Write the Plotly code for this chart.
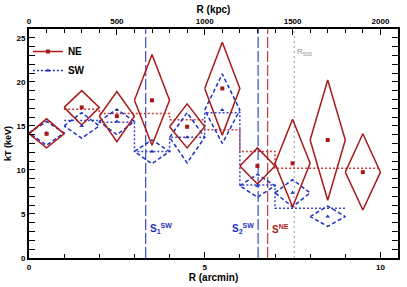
import plotly.graph_objects as go

# ---------------- data ----------------
ne_r = [0.5, 1.5, 2.5, 3.5, 4.5, 5.5, 6.5, 7.5, 8.5, 9.5]          # arcmin
ne_rlo = [0, 1, 2, 3, 4, 5, 6, 7, 8, 9]
ne_rhi = [1, 2, 3, 4, 5, 6, 7, 8, 9, 10]
ne_kt = [14.1, 17.1, 16.1, 17.9, 14.9, 19.25, 10.45, 10.75, 13.4, 9.75]
ne_up = [1.7, 1.9, 2.8, 5.2, 2.6, 5.25, 2.05, 5.0, 6.8, 4.35]
ne_dn = [1.6, 2.0, 2.9, 5.1, 2.4, 5.3, 2.05, 4.95, 6.85, 4.3]

sw_r = [0.5, 1.5, 2.5, 3.5, 4.5, 5.5, 6.5, 7.5, 8.5]
sw_rlo = [0, 1, 2, 3, 4, 5, 6, 7, 8]
sw_rhi = [1, 2, 3, 4, 5, 6, 7, 8, 9]
sw_kt = [14.2, 15.0, 15.5, 12.1, 13.7, 16.8, 8.2, 7.4, 4.7]
sw_up = [1.3, 1.5, 1.4, 1.3, 2.8, 4.1, 1.3, 1.5, 1.2]
sw_dn = [1.4, 1.4, 1.5, 1.4, 2.9, 3.8, 1.3, 1.6, 1.1]

# deprojected / model step profiles
ne_step_edges = [1, 2, 3, 4, 5, 6, 7, 8, 9, 10]
ne_step_kt = [16.9, 16.4, 16.4, 15.7, 14.55, 12.1, 10.2, 10.2, 10.2]
sw_step_edges = [1, 2, 3, 4, 5, 6, 7, 8, 9]
sw_step_kt = [15.6, 15.4, 12.1, 13.7, 16.5, 8.3, 5.65, 5.65]

# marked radii (arcmin)
shock_names = ["S<sub>1</sub><sup>SW</sup>", "S<sub>2</sub><sup>SW</sup>", "S<sup>NE</sup>"]
shock_r = [3.32, 6.52, 6.79]
r500_r = 7.55

kpc_ticks = [0, 500, 1000, 1500, 2000]
arcmin_ticks = [0, 5, 10]
kt_ticks = [0, 5, 10, 15, 20, 25]

RED = "#a81a1a"
BLUE = "#1f2fbf"
FONT = "Liberation Sans"

fig = go.Figure()


def diamond(c, lo, hi, v, u, d):
    return [lo, c, hi, c, lo], [v, v + u, v, v - d, v]


# steps
fig.add_trace(go.Scatter(x=ne_step_edges, y=ne_step_kt + [ne_step_kt[-1]], mode="lines",
                         line=dict(color="#c83a3a", width=1.5, dash="2px,2px", shape="hv"),
                         showlegend=False, hoverinfo="skip"))
fig.add_trace(go.Scatter(x=sw_step_edges, y=sw_step_kt + [sw_step_kt[-1]], mode="lines",
                         line=dict(color="#3a48c8", width=1.5, dash="2px,2px", shape="hv"),
                         showlegend=False, hoverinfo="skip"))

# SW diamonds
for i in range(len(sw_r)):
    xs, ys = diamond(sw_r[i], sw_rlo[i], sw_rhi[i], sw_kt[i], sw_up[i], sw_dn[i])
    fig.add_trace(go.Scatter(x=xs, y=ys, mode="lines",
                             line=dict(color=BLUE, width=1.5, dash="4px,2.5px"),
                             showlegend=False, hoverinfo="skip"))
# NE diamonds
for i in range(len(ne_r)):
    xs, ys = diamond(ne_r[i], ne_rlo[i], ne_rhi[i], ne_kt[i], ne_up[i], ne_dn[i])
    fig.add_trace(go.Scatter(x=xs, y=ys, mode="lines",
                             line=dict(color=RED, width=1.5),
                             showlegend=False, hoverinfo="skip"))

fig.add_trace(go.Scatter(x=sw_r, y=sw_kt, mode="markers",
                         marker=dict(symbol="triangle-up", size=4, color=BLUE),
                         showlegend=False))
fig.add_trace(go.Scatter(x=ne_r, y=ne_kt, mode="markers",
                         marker=dict(symbol="square", size=4, color=RED),
                         showlegend=False))

# legend entries
fig.add_trace(go.Scatter(x=[None], y=[None], mode="lines+markers", name="NE",
                         line=dict(color=RED, width=1.5),
                         marker=dict(symbol="square", size=4, color=RED)))
fig.add_trace(go.Scatter(x=[None], y=[None], mode="lines+markers", name="SW",
                         line=dict(color=BLUE, width=1.5, dash="2px,2px"),
                         marker=dict(symbol="triangle-up", size=4, color=BLUE)))

# top axis carrier
fig.add_trace(go.Scatter(x=[None], y=[None], xaxis="x2", showlegend=False, hoverinfo="skip"))

# vertical marker lines
shock_cols = ["#4a58c8", "#4a58c8", "#c04848"]
for r, col in zip(shock_r, shock_cols):
    fig.add_shape(type="line", x0=r, x1=r, y0=0, y1=1, xref="x", yref="paper", layer="below",
                  line=dict(color=col, width=1.3, dash="11px,3px"))
fig.add_shape(type="line", x0=r500_r, x1=r500_r, y0=0, y1=1, xref="x", yref="paper", layer="below",
              line=dict(color="#b0b0b0", width=1.3, dash="2px,3px"))

lab_anchor = ["left", "right", "left"]
lab_cols = [BLUE, BLUE, "#b02020"]
for name, r, anc, col in zip(shock_names, shock_r, lab_anchor, lab_cols):
    fig.add_annotation(x=r, y=3.3, xref="x", yref="y", text="<b>" + name + "</b>",
                       showarrow=False, xanchor=anc, yanchor="middle",
                       xshift=2 if anc == "left" else -2,
                       font=dict(family=FONT, size=10, color=col))
fig.add_annotation(x=r500_r, y=23.4, xref="x", yref="y", text="R<sub>500</sub>",
                   showarrow=False, xanchor="left", yanchor="middle", xshift=1,
                   font=dict(family=FONT, size=8, color="#909090"))

axis_common = dict(showgrid=False, zeroline=False, showline=True, linecolor="black",
                   linewidth=1.8, ticks="inside", tickcolor="black", tickwidth=1.3,
                   automargin=False,
                   tickfont=dict(family=FONT, size=8, color="black", weight="bold"))

fig.update_layout(
    width=407, height=287,
    margin=dict(l=29, r=9, t=29, b=29, pad=0, autoexpand=False),
    paper_bgcolor="white", plot_bgcolor="white",
    showlegend=True,
    legend=dict(x=-0.003, y=0.965, xanchor="left", yanchor="top", bgcolor="rgba(0,0,0,0)",
                font=dict(family=FONT, size=10, color="black", weight="bold"),
                tracegroupgap=0, itemwidth=30),
    xaxis=dict(range=[0, 10.5], tickvals=arcmin_ticks, ticklen=6, mirror=True,
               minor=dict(dtick=1, ticks="inside", ticklen=4, tickcolor="black", tickwidth=1.3),
               title=dict(text="R (arcmin)", standoff=1,
                          font=dict(family=FONT, size=10, color="black", weight="bold")),
               **axis_common),
    xaxis2=dict(range=[0, 2100], overlaying="x", side="top", tickvals=kpc_ticks, ticklen=6,
                minor=dict(dtick=100, ticks="inside", ticklen=4, tickcolor="black", tickwidth=1.3),
                title=dict(text="R (kpc)", standoff=1,
                           font=dict(family=FONT, size=10, color="black", weight="bold")),
                **axis_common),
    yaxis=dict(range=[0, 26], tickvals=kt_ticks, ticklen=6, mirror="allticks",
               minor=dict(dtick=1, ticks="inside", ticklen=4, tickcolor="black", tickwidth=1.3),
               title=dict(text="kT (keV)", standoff=3,
                          font=dict(family=FONT, size=9, color="black", weight="bold")),
               **axis_common),
)

fig.write_html("out.html", config={"displayModeBar": False},
               post_script="document.body.style.margin='0';")
